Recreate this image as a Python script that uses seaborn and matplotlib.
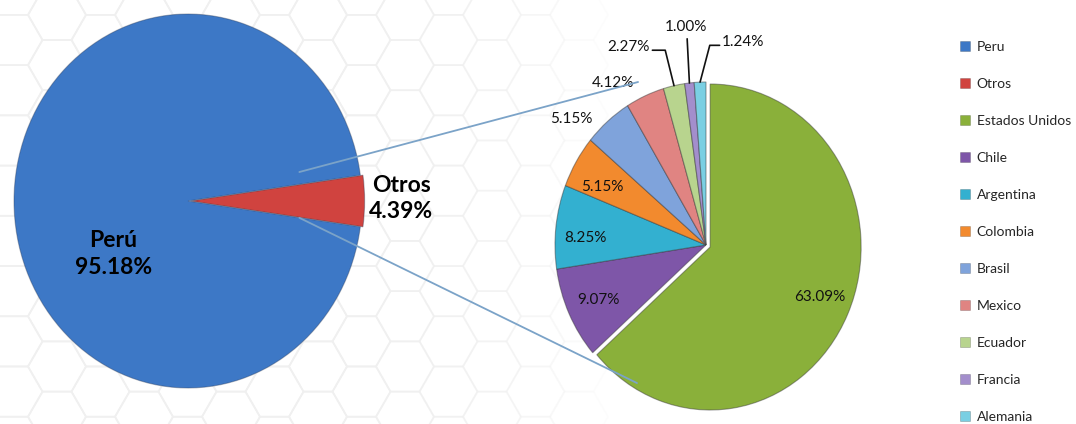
import numpy as np
import matplotlib
matplotlib.use("Agg")
import matplotlib.pyplot as plt
import seaborn as sns
from matplotlib.patches import Patch, RegularPolygon, ConnectionPatch

# ---------------- data ----------------
main_labels = ["Otros", "Perú"]
main_values = [4.39, 95.18]
main_colors = ["#D0433F", "#3D78C6"]

sub_labels = ["Estados Unidos", "Chile", "Argentina", "Colombia", "Brasil",
              "Mexico", "Ecuador", "Francia", "Alemania"]
sub_values = [63.09, 9.07, 8.25, 5.15, 5.15, 4.12, 2.27, 1.00, 1.24]
sub_colors = ["#8AB03A", "#7E56A8", "#33B0D0", "#F28A2E", "#7FA3DB",
              "#E08482", "#B8D48E", "#A38ECC", "#7ACFE3"]

legend_labels = ["Peru", "Otros", "Estados Unidos", "Chile", "Argentina", "Colombia",
                 "Brasil", "Mexico", "Ecuador", "Francia", "Alemania"]
legend_colors = ["#3D78C6", "#D0433F"] + sub_colors

# ---------------- style ----------------
sns.set_theme(style="white")
plt.rcParams["font.family"] = ["Lato", "DejaVu Sans"]

W, H = 1076, 424
fig = plt.figure(figsize=(W / 100, H / 100), dpi=100)
fig.patch.set_facecolor("white")


def px_axes(cx, cy, rx, ry, scale=1.0):
    """axes whose data range [-scale, scale] maps onto an ellipse box in pixels"""
    left = (cx - rx * scale) / W
    bottom = (H - (cy + ry * scale)) / H
    return fig.add_axes([left, bottom, 2 * rx * scale / W, 2 * ry * scale / H])


# ---------------- background hexagons ----------------
bg = fig.add_axes([0, 0, 1, 1], zorder=-10)
bg.set_xlim(0, W)
bg.set_ylim(H, 0)
bg.axis("off")
R = 29.0
dx = 1.5 * R
dy = np.sqrt(3) * R
for i in range(-1, 18):
    x = 405 - 9 * dx + i * dx
    off = 0 if (i % 2 == 0) else dy / 2
    for j in range(-1, 11):
        y = 40 + off + j * dy - 2 * dy
        a = np.clip((620 - x) / 260, 0, 1)
        if a <= 0:
            continue
        bg.add_patch(RegularPolygon((x, y), numVertices=6, radius=R,
                                    orientation=np.pi / 6, fill=False,
                                    edgecolor="#f0f0f0", lw=1.2, alpha=a))

# ---------------- left pie ----------------
ax1 = px_axes(188, 201, 174, 187)
tot = sum(main_values)
otros_ang = main_values[0] / tot * 360
w1, _ = ax1.pie(main_values, colors=main_colors, startangle=-otros_ang / 2,
                counterclock=True, explode=[0.015, 0],
                wedgeprops=dict(edgecolor=(0.15, 0.2, 0.3, 0.35), linewidth=0.8))
ax1.set_aspect("auto")
ax1.set_xlim(-1, 1)
ax1.set_ylim(-1, 1)
ax1.text(-0.43, -0.285, f"Perú\n{main_values[1]:.2f}%", ha="center", va="center",
         fontsize=16.5, fontweight="bold", color="black", linespacing=1.35)
mid = np.deg2rad((w1[0].theta1 + w1[0].theta2) / 2)
ax1.text(1.225 * np.cos(mid), 1.225 * np.sin(mid) + 0.015,
         f"{main_labels[0]}\n{main_values[0]:.2f}%", ha="center", va="center",
         fontsize=16.5, fontweight="bold", color="black", linespacing=1.3)

# ---------------- right pie ----------------
ax2 = px_axes(706, 245, 151, 163, scale=1.5)
w2, _ = ax2.pie(sub_values, colors=sub_colors, startangle=90, counterclock=False,
                explode=[0.03] + [0] * 8, radius=1.0,
                wedgeprops=dict(edgecolor=(0.2, 0.2, 0.2, 0.45), linewidth=0.8))
ax2.set_aspect("auto")
ax2.set_xlim(-1.5, 1.5)
ax2.set_ylim(-1.5, 1.5)

LBL = dict(fontsize=11, color="#111111")
# label placement (layout only): radius and angular nudge (deg) for the first six labels
label_r = [0.82, 0.79, 0.80, 0.776, 1.18, 1.17]
label_dth = [1.4, 0.2, 3.5, 3.4, 8.4, 8.0]
for k, (wd, v) in enumerate(zip(w2, sub_values)):
    th = np.deg2rad((wd.theta1 + wd.theta2) / 2 + (label_dth[k] if k < 6 else 0))
    if k < len(label_r):
        r = label_r[k]
        ax2.text(r * np.cos(th), r * np.sin(th), f"{v:.2f}%",
                 ha="center", va="center", **LBL)

lead = {6: (-0.53, 1.215, "right"), 7: (-0.13, 1.335, "center"), 8: (0.105, 1.245, "left")}
for k, (tx, ty, side) in lead.items():
    wd = w2[k]
    th = np.deg2rad((wd.theta1 + wd.theta2) / 2)
    ex, ey = np.cos(th), np.sin(th)
    if side == "right":
        ax2.text(tx + 0.16, ty, f"{sub_values[k]:.2f}%", ha="right", va="center", **LBL)
        ax2.plot([tx + 0.175, tx + 0.26, ex], [ty - 0.02, ty - 0.02, ey],
                 color="#111111", lw=1.2, clip_on=False)
    elif side == "center":
        ax2.text(tx, ty, f"{sub_values[k]:.2f}%", ha="center", va="center", **LBL)
        ax2.plot([ex - 0.015, ex], [ty - 0.07, ey], color="#111111", lw=1.2,
                 clip_on=False)
    else:
        ax2.text(tx, ty, f"{sub_values[k]:.2f}%", ha="left", va="center", **LBL)
        ax2.plot([tx - 0.015, tx - 0.08, ex], [ty - 0.02, ty - 0.02, ey],
                 color="#111111", lw=1.2, clip_on=False)

# ---------------- series lines ----------------
for pa, pb in [((0.64, 0.155), (-0.45, 1.0)), ((0.64, -0.09), (-0.457, -0.847))]:
    con = ConnectionPatch(xyA=pa, coordsA=ax1.transData, xyB=pb, coordsB=ax2.transData,
                          color="#7BA3C8", lw=1.3, zorder=5)
    fig.add_artist(con)

# ---------------- legend ----------------
handles = [Patch(facecolor=c, edgecolor=(0, 0, 0, 0.25), lw=0.5) for c in legend_colors]
fig.legend(handles, legend_labels, loc="upper left", bbox_to_anchor=(960 / W, 1 - 41 / H),
           frameon=False, fontsize=10, handlelength=0.7, handleheight=0.7,
           handletextpad=0.5, labelspacing=1.8, borderpad=0, borderaxespad=0)

fig.savefig("out.png", dpi=100, facecolor="white")
